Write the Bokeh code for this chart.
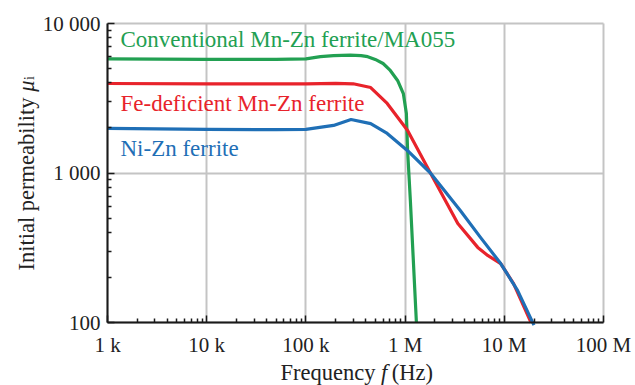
import math
from bokeh.plotting import figure
from bokeh.models import FixedTicker, Label
from bokeh.embed import file_html
from bokeh.resources import INLINE

# ---------------- data ----------------
series_names = ["Conventional Mn-Zn ferrite/MA055",
                "Fe-deficient Mn-Zn ferrite",
                "Ni-Zn ferrite"]

green_freq = [1e3, 1e4, 5e4, 1e5, 1.4e5, 1.9e5, 2.8e5, 3.6e5, 4.2e5, 5e5, 6e5,
              7e5, 8.4e5, 9.6e5, 1.03e6, 1.06e6, 1.13e6, 1.30e6]
green_mu = [5800, 5750, 5750, 5800, 6000, 6100, 6150, 6100, 6000, 5750, 5400,
            4900, 4160, 3400, 2500, 1410, 655, 100]

red_freq = [1e3, 1e4, 1e5, 2e5, 3e5, 4.5e5, 6.6e5, 1.06e6, 1.8e6, 3.4e6, 5.4e6,
            6.8e6, 9.2e6, 1.24e7, 1.86e7]
red_mu = [3970, 3950, 3950, 3980, 3950, 3730, 2920, 1925, 1000, 459, 318,
          281, 248, 182, 100]

blue_freq = [1e3, 1e4, 5e4, 1e5, 1.9e5, 2.85e5, 4.5e5, 6.6e5, 1.06e6, 1.8e6,
             3.6e6, 5.75e6, 9.2e6, 1.36e7, 1.99e7]
blue_mu = [1990, 1960, 1950, 1960, 2080, 2280, 2140, 1840, 1410, 1000,
           561, 371, 248, 164, 96]

x_ticks = [1e3, 1e4, 1e5, 1e6, 1e7, 1e8]
x_tick_labels = ["1 k", "10 k", "100 k", "1 M", "10 M", "100 M"]
y_ticks = [100, 1000, 10000]
y_tick_labels = ["100", "1 000", "10 000"]

x_label_parts = ["Frequency", "f", "(Hz)"]
y_label_parts = ["Initial permeability", "\u03bc", "i"]

# ---------------- style / layout ----------------
FONT = "Liberation Serif"
COLORS = ["#22a052", "#e8232b", "#1f6fb6"]
W, H = 635, 385
L, R, T, B = 107, 603, 23, 322          # plot box edges in canvas pixels
DX = (R - L) / 5.0                      # pixels per x decade
DY = (B - T) / 2.0                      # pixels per y decade
OFF = 6                                 # baseline correction of Label text


def px_x(px):
    return 10 ** (3 + (px - L) / DX)


def px_y(py):
    return 10 ** (4 - (py - T) / DY)


p = figure(width=W, height=H, x_axis_type="log", y_axis_type="log",
           x_range=(px_x(0), px_x(W)), y_range=(px_y(H), px_y(0)),
           output_backend="svg", toolbar_location=None,
           min_border_left=0, min_border_right=0,
           min_border_top=0, min_border_bottom=0)

p.background_fill_color = "white"
p.border_fill_color = "white"
p.outline_line_color = None

p.xaxis.ticker = FixedTicker(ticks=x_ticks,
                             minor_ticks=[m * 10 ** e for e in range(3, 8) for m in range(2, 10)])
p.yaxis.ticker = FixedTicker(ticks=y_ticks,
                             minor_ticks=[m * 10 ** e for e in range(2, 4) for m in range(2, 10)])
p.xaxis.major_label_overrides = {int(t): s for t, s in zip(x_ticks, x_tick_labels)}
p.yaxis.major_label_overrides = {int(t): s for t, s in zip(y_ticks, y_tick_labels)}
p.xaxis.fixed_location = y_ticks[0]
p.yaxis.fixed_location = x_ticks[0]
p.xaxis.bounds = (x_ticks[0], x_ticks[-1])
p.yaxis.bounds = (y_ticks[0], y_ticks[-1])

p.xgrid.bounds = (x_ticks[0], x_ticks[-1])
p.ygrid.bounds = (y_ticks[0], y_ticks[-1])
p.xgrid.cross_bounds = (y_ticks[0], y_ticks[-1])
p.ygrid.cross_bounds = (x_ticks[0], x_ticks[-1])
p.grid.grid_line_color = "#c4c4c4"
p.grid.grid_line_width = 2

for ax in (p.xaxis, p.yaxis):
    ax.axis_line_color = "#1a1a1a"
    ax.axis_line_width = 2
    ax.major_tick_line_color = "#1a1a1a"
    ax.minor_tick_line_color = "#1a1a1a"
    ax.major_tick_line_width = 1.5
    ax.minor_tick_line_width = 1.5
    ax.major_tick_in = 7
    ax.major_tick_out = 0
    ax.minor_tick_in = 4
    ax.minor_tick_out = 0
    ax.major_label_text_font = FONT
    ax.major_label_text_font_size = "21px"
    ax.major_label_text_color = "#222222"
    ax.axis_label = None
p.xaxis.major_label_standoff = 10
p.yaxis.major_label_standoff = 7

for fx, fy, c in ((green_freq, green_mu, COLORS[0]),
                  (red_freq, red_mu, COLORS[1]),
                  (blue_freq, blue_mu, COLORS[2])):
    p.line(fx, fy, line_color=c, line_width=3.2, line_join="round")

# series names
for name, c, base in zip(series_names, COLORS, (45, 109, 154)):
    p.add_layout(Label(x=px_x(120), y=px_y(base - OFF), text=name, text_color=c,
                       text_font=FONT, text_font_size="23px",
                       text_align="left", text_baseline="alphabetic"))

# x axis label: Frequency f (Hz)
LAB = 22.5
SP = 250 * LAB / 1000
x0 = 280
w_freq = 4221 * LAB / 1000
w_f = 278 * LAB / 1000
for txt, xx, style in ((x_label_parts[0], x0, "normal"),
                       (x_label_parts[1], x0 + w_freq + SP, "italic"),
                       (x_label_parts[2], x0 + w_freq + SP + w_f + SP * 0.8, "normal")):
    p.add_layout(Label(x=px_x(xx), y=px_y(378 - OFF), text=txt, text_color="#222222",
                       text_font=FONT, text_font_size=f"{LAB}px", text_font_style=style,
                       text_align="left", text_baseline="alphabetic"))

# y axis label: Initial permeability mu_i (rotated)
y0 = 270
w_init = 7694 * LAB / 1000 + SP
w_mu = 520 * LAB / 1000
for txt, yy, bx, style, size in ((y_label_parts[0], y0, 32, "normal", f"{LAB}px"),
                                 (y_label_parts[1], y0 - w_init, 32, "italic", f"{LAB}px"),
                                 (y_label_parts[2], y0 - w_init - w_mu, 35, "normal", "14px")):
    p.add_layout(Label(x=px_x(bx - OFF), y=px_y(yy), text=txt, text_color="#222222",
                       text_font=FONT, text_font_size=size, text_font_style=style,
                       angle=math.pi / 2, angle_units="rad",
                       text_align="left", text_baseline="alphabetic"))

open("out.html", "w").write(file_html(p, INLINE))
